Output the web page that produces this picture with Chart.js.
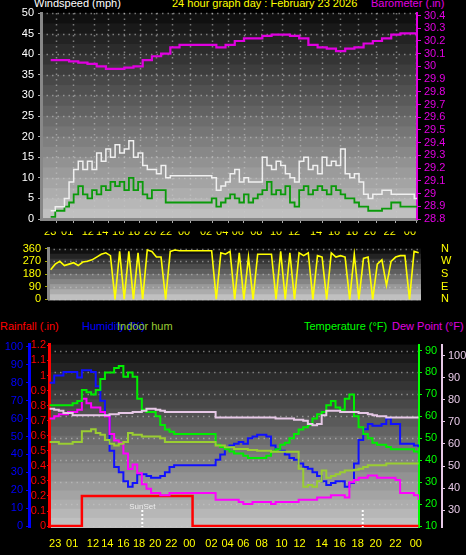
<!DOCTYPE html>
<html><head><meta charset="utf-8">
<script src="https://cdn.jsdelivr.net/npm/chart.js@4/dist/chart.umd.min.js"></script>
<style>
body{margin:0;background:#000;width:466px;height:555px;overflow:hidden;position:relative;font-family:"Liberation Sans",Arial,sans-serif;}
canvas{position:absolute;left:0;}
.t{position:absolute;font-size:11px;white-space:nowrap;line-height:11px;}
</style></head><body>
<div class="t" style="left:34px;top:-2px;color:#fff">Windspeed (mph)</div>
<div class="t" style="left:172px;top:-2px;color:#ff0">24 hour graph day : February 23 2026</div>
<div class="t" style="left:371px;top:-2px;color:#e000e0">Barometer (.in)</div>
<div class="t" style="left:0px;top:321px;color:#f00">Rainfall (.in)</div>
<div class="t" style="left:82px;top:321px;color:#00f">Humidity (%)</div>
<div class="t" style="left:117px;top:321px;color:#9c3">Indoor hum</div>
<div class="t" style="left:304px;top:321px;color:#0f0">Temperature (°F)</div>
<div class="t" style="left:392px;top:321px;color:#e000e0">Dew Point (°F)</div>
<canvas id="c1" width="466" height="232" style="top:0"></canvas>
<canvas id="c2" width="466" height="88" style="top:230px"></canvas>
<canvas id="c3" width="466" height="220" style="top:335px"></canvas>
<script>
// time positions (sample index units) and their labels
const tickPos = [1.2,4.9,9.4,12.5,16,19.4,22.9,26.4,30.3,35.1,38.6,42,46,50.3,54.2,59,62.9,66.8,70.7,75,79.4];
const tickLabels = ['23','01','12','14','16','18','20','22','00','02','04','06','08','10','12','14','16','18','20','22','00'];
const sunsetPos = [20.1, 67.9];
const sunsetLabels = ['SunSet',''];
const dirLabels = {0:'N',90:'E',180:'S',270:'W',360:'N'};

const barometer = [30.05,30.05,30.04,30.03,30.02,30.0,29.98,29.98,29.99,30.0,30.05,30.08,30.1,30.15,30.17,30.17,30.17,30.17,30.15,30.17,30.2,30.22,30.22,30.24,30.25,30.25,30.24,30.22,30.17,30.15,30.14,30.12,30.14,30.15,30.18,30.2,30.22,30.25,30.26,30.26,30.27];
const windGust = [2,3,3,5,9,12,14,12,14,12,16,14,17,15,18,16,17,19,15,16,13,12,12,11,13,10,10.5,10.5,10.5,10.5,10.5,10.5,10.5,10.5,10.5,10,7,8,9,11,12,9,10,9,9,9,15,13,12,14,13,11,10,9,14,15,12,13,11,15,13,14,13,17,11,10,11,9,6,5,6,6,7,7,6,6,6,6,6,5,5];
const windAvg = [0.5,2,2,3,4,6,8,6,5,7,6,8,7,9,8,9,7,10,7,9,6,5,7,7,7,4,4,4,4,4,4,4,4,4,4,5,3,4,5,6,5,4,6,4,5,6,7,9,6,7,6,8,4,3,7,8,6,7,8,7,6,8,7,6,5,5,4,3,3,2,2,2,2.5,2.5,4,4,3,3,3,3,3];
const windDir = [210,250,270,240,250,260,240,265,270,280,300,320,330,310,0,340,0,340,0,330,0,350,340,300,300,0,340,350,345,345,345,345,345,345,345,345,0,330,320,340,0,330,0,300,0,320,320,320,320,0,340,0,330,0,330,310,330,0,310,300,0,330,300,310,300,0,320,0,290,300,0,250,280,100,270,300,310,310,0,340,330];
const humidity = [80,84,84,86,86,86,83,87,87,86,78,70,62,42,33,30,25,22,24,29,29,28,27,27,28,30,33,34,34,34,34,34,34,34,34,34,37,40,44,45,46,47,46,49,50,51,51,50,45,43,42,40,38,37,35,33,32,30,28,25,23,24,25,25,22,24,35,48,54,57,56,56,57,60,57,57,46,46,46,45,44];
const indoorHum = [47,47,46,46,46,47,47,53,53,54,52,51,48,46,45,46,47,52,51,51,50,50,50,50,49,47,47,47,47,47,47,47,47,47,47,47,45,45,44,44,43,43,43,42.5,42.5,42,42,42,41.5,41.5,41.5,41.5,41.5,41.5,32,22,23,22,25,31,27,28,29,30,31,31,31.5,32,33,34,34,34,34,35,35,35,35,35,35,35,35];
const temperature = [65,65,65,65,65,66,67,72,71,70,72,77,80,80,82,83,78,80,78,68,63,62,62,60,56,54,53,52,52,52,52,52,52,52,52,52,47,46,45,44,43,43,42,41,41,41,41,42,44,45,47,48,50,52,54,55,56,59,61,62,65,67,64,63,68,70,60,55,52,50,48,47,47,46,45,45,45,45,45,44,43];
const dewPoint = [59,60,61,61,62,62,63,68,66,64,64,62,60,52,49,48,43,36,38,34,29,27,25,25,24,24,25,25,25,25,25,25,25,25,25,25,22,22,22,22,22,21,20,20,21,21,21,21,20,21,21,21,21,21,22,22,22,22,23,23,23,24,24,24,23,30,31,32,32,33,33,32,32,32,32,31,25,25,25,24,22];
const indoorTemp = [76,75.5,75,74,74,73,73,73,73,73,73,73,73,73.5,73.5,74,74,74,74.5,74.5,75,76,76,75.5,75,74.5,74.5,74.5,74.5,74.5,74.5,74.5,74.5,74.5,74.5,74.5,72,72,72,72,72,72,72,72,72,72,72,72,72,71.5,71.5,71.5,71.5,71,71,70.5,69,68.5,69,73,75,75,75,74.5,74.5,74.5,74.5,74,74,73.5,73,72.5,72.5,72,72,72,72,72,72,72,72];
const rainfall = [0,0,0,0,0,0,0,0.2,0.2,0.2,0.2,0.2,0.2,0.2,0.2,0.2,0.2,0.2,0.2,0.2,0.2,0.2,0.2,0.2,0.2,0.2,0.2,0.2,0.2,0.2,0.2,0,0,0,0,0,0,0,0,0,0,0,0,0,0,0,0,0,0,0,0,0,0,0,0,0,0,0,0,0,0,0,0,0,0,0,0,0,0,0,0,0,0,0,0,0,0,0,0,0,0];

const F = {family:'Liberation Sans', size:11};
const pts = arr => arr.map((v,i)=>({x:i,y:v}));
const ptsBaro = arr => arr.map((v,i)=>({x:i*2,y:v}));

function fixTicks(list){ return s => { s.ticks = list.map(v=>({value:v})); }; }

const bgPlugin = {
  id:'bg',
  beforeDraw(chart, args, opts){
    const {ctx, chartArea:a} = chart;
    const n = opts.bands || 20;
    const h = (a.bottom-a.top)/n;
    for(let k=0;k<n;k++){
      const g = Math.round(16 + (192-16)*k/(n-1));
      ctx.fillStyle = `rgb(${g},${g},${g})`;
      ctx.fillRect(a.left, a.top+k*h, a.right-a.left, h+1);
    }
    ctx.save();
    ctx.strokeStyle = 'rgba(200,200,200,0.55)';
    ctx.lineWidth = 1.5;
    ctx.setLineDash([1.5,4]);
    const ys = chart.scales[opts.yAxis];
    ys.ticks.forEach(t=>{const y=Math.round(ys.getPixelForValue(t.value))+0.5;ctx.beginPath();ctx.moveTo(a.left,y);ctx.lineTo(a.right,y);ctx.stroke();});
    if(opts.vlines){
      const xs = chart.scales.x;
      xs.ticks.forEach(t=>{const x=Math.round(xs.getPixelForValue(t.value))+0.5;ctx.beginPath();ctx.moveTo(x,a.top);ctx.lineTo(x,a.bottom);ctx.stroke();});
    }
    ctx.restore();
  }
};
const sunPlugin = {
  id:'sun',
  afterDatasetsDraw(chart){
    const {ctx, chartArea:a} = chart; const xs = chart.scales.x;
    ctx.save();
    ctx.strokeStyle='#fff'; ctx.lineWidth=2; ctx.setLineDash([2,2]);
    sunsetPos.forEach((p,i)=>{
      const x = xs.getPixelForValue(p);
      ctx.beginPath(); ctx.moveTo(x,a.bottom-17); ctx.lineTo(x,a.bottom); ctx.stroke();
      if(sunsetLabels[i]){ctx.fillStyle='#eee';ctx.font='8px "Liberation Sans"';ctx.textAlign='center';ctx.fillText(sunsetLabels[i],x,a.bottom-18);}
    });
    ctx.restore();
  }
};

const xTickOpts = (show, offset) => ({
  type:'linear',
  afterBuildTicks: fixTicks(tickPos),
  ticks:{display:show, color:'#ff0', font:F, autoSkip:false, maxRotation:0, padding:2, labelOffset:offset||0,
    callback:(v)=>{const i=tickPos.indexOf(v);return i>=0?tickLabels[i]:'';}},
  grid:{display:true, drawOnChartArea:false, color:'#aaa', tickLength:4},
  border:{color:'#888', width:3}
});
const yt = (color, pad, cb) => { const o = {color, font:F, padding:pad, autoSkip:false}; if(cb) o.callback = cb; return o; };

// ---------- Top: wind + barometer
const x1 = xTickOpts(false);
Object.assign(x1,{min:-2.1,max:79.6,afterFit:s=>{s.height=13;}});
new Chart(document.getElementById('c1'),{
  type:'line',
  data:{datasets:[
    {data:ptsBaro(barometer),yAxisID:'yb',borderColor:'#e000e0',borderWidth:2.2,pointRadius:0,stepped:true},
    {data:pts(windGust),yAxisID:'y',borderColor:'#f0f0f0',borderWidth:1.5,pointRadius:0,stepped:true},
    {data:pts(windAvg),yAxisID:'y',borderColor:'#0a9a0a',borderWidth:1.8,pointRadius:0,stepped:true}
  ]},
  options:{animation:false,responsive:false,events:[],
    layout:{padding:{top:13,left:0,right:0,bottom:0}},
    plugins:{legend:{display:false},tooltip:{enabled:false},bg:{yAxis:'y',vlines:true,bands:20}},
    scales:{
      x:x1,
      y:{position:'left',min:0,max:50,afterBuildTicks:fixTicks([0,5,10,15,20,25,30,35,40,45,50]),afterFit:s=>{s.width=41;},
        ticks:yt('#fff',4),grid:{display:true,drawOnChartArea:false,color:'#aaa',tickLength:3},border:{color:'#888',width:3}},
      yb:{position:'right',min:28.8,max:30.42,afterBuildTicks:fixTicks([28.8,28.9,29,29.1,29.2,29.3,29.4,29.5,29.6,29.7,29.8,29.9,30,30.1,30.2,30.3,30.4]),afterFit:s=>{s.width=49;},
        ticks:yt('#e000e0',3,v=>String(Math.round(v*10)/10)),grid:{display:true,drawOnChartArea:false,color:'#e000e0',tickLength:4},border:{color:'#e000e0',width:2}}
    }},
  plugins:[bgPlugin]
});

// ---------- Middle: wind direction
const x2 = xTickOpts(true,-6);
Object.assign(x2,{position:'top',min:-0.57,max:80.5,afterFit:s=>{s.height=17;}});
x2.grid = {display:false}; x2.border={display:false};
new Chart(document.getElementById('c2'),{
  type:'line',
  data:{datasets:[{data:pts(windDir),yAxisID:'y',borderColor:'#ffff00',borderWidth:1.6,pointRadius:0}]},
  options:{animation:false,responsive:false,events:[],
    layout:{padding:{top:0,bottom:7}},
    plugins:{legend:{display:false},tooltip:{enabled:false},bg:{yAxis:'y',bands:10}},
    scales:{
      x:x2,
      y:{position:'left',min:0,max:360,afterBuildTicks:fixTicks([0,90,180,270,360]),afterFit:s=>{s.width=48;},
        ticks:yt('#ff0',4),grid:{display:true,drawOnChartArea:false,color:'#aa0',tickLength:3},border:{color:'#888',width:3}},
      yd:{position:'right',min:0,max:360,afterBuildTicks:fixTicks([0,90,180,270,360]),afterFit:s=>{s.width=45;},
        ticks:yt('#ff0',12,v=>dirLabels[v]),grid:{display:false},border:{display:false}}
    }},
  plugins:[bgPlugin]
});

// ---------- Bottom: temps, humidity, rain
const x3 = xTickOpts(true);
Object.assign(x3,{min:-0.13,max:80.1,afterFit:s=>{s.height=28;}});
x3.grid={display:false}; x3.border={display:false};
const sl = (data,axis,color,w)=>({data:pts(data),yAxisID:axis,borderColor:color,borderWidth:w||2,pointRadius:0,stepped:true});
new Chart(document.getElementById('c3'),{
  type:'line',
  data:{datasets:[
    sl(indoorTemp,'yd','#e6c8e6'),
    sl(indoorHum,'yh','#9acd32'),
    sl(temperature,'yt','#00ee00'),
    sl(dewPoint,'yt','#ff00ff'),
    sl(humidity,'yh','#1010ff'),
    sl(rainfall,'yr','#ff0000',2.5)
  ]},
  options:{animation:false,responsive:false,events:[],
    layout:{padding:{top:6}},
    plugins:{legend:{display:false},tooltip:{enabled:false},bg:{yAxis:'yt',bands:20}},
    scales:{
      x:x3,
      yh:{position:'left',weight:2,min:-0.5,max:101.3,afterBuildTicks:fixTicks([0,10,20,30,40,50,60,70,80,90,100]),afterFit:s=>{s.width=29;},
        ticks:yt('#00f',3),grid:{display:true,drawOnChartArea:false,color:'#00f',tickLength:3},border:{color:'#00f',width:3}},
      yr:{position:'left',weight:1,min:-0.006,max:1.205,afterBuildTicks:fixTicks([0,0.1,0.2,0.3,0.4,0.5,0.6,0.7,0.8,0.9,1,1.1,1.2]),afterFit:s=>{s.width=20;},
        ticks:yt('#f00',1,v=>String(Math.round(v*10)/10)),grid:{display:true,drawOnChartArea:false,color:'#f00',tickLength:2},border:{color:'#f00',width:3}},
      yt:{position:'right',weight:1,min:9.55,max:92.7,afterBuildTicks:fixTicks([10,20,30,40,50,60,70,80,90]),afterFit:s=>{s.width=23;},
        ticks:yt('#0f0',3),grid:{display:true,drawOnChartArea:false,color:'#0f0',tickLength:3},border:{color:'#0f0',width:2}},
      yd:{position:'right',weight:2,min:22.4,max:105,afterBuildTicks:fixTicks([30,40,50,60,70,80,90,100]),afterFit:s=>{s.width=24;},
        ticks:yt('#e6c8e6',3),grid:{display:true,drawOnChartArea:false,color:'#e6c8e6',tickLength:3},border:{color:'#e6c8e6',width:2}}
    }},
  plugins:[bgPlugin,sunPlugin]
});
</script>
</body></html>
